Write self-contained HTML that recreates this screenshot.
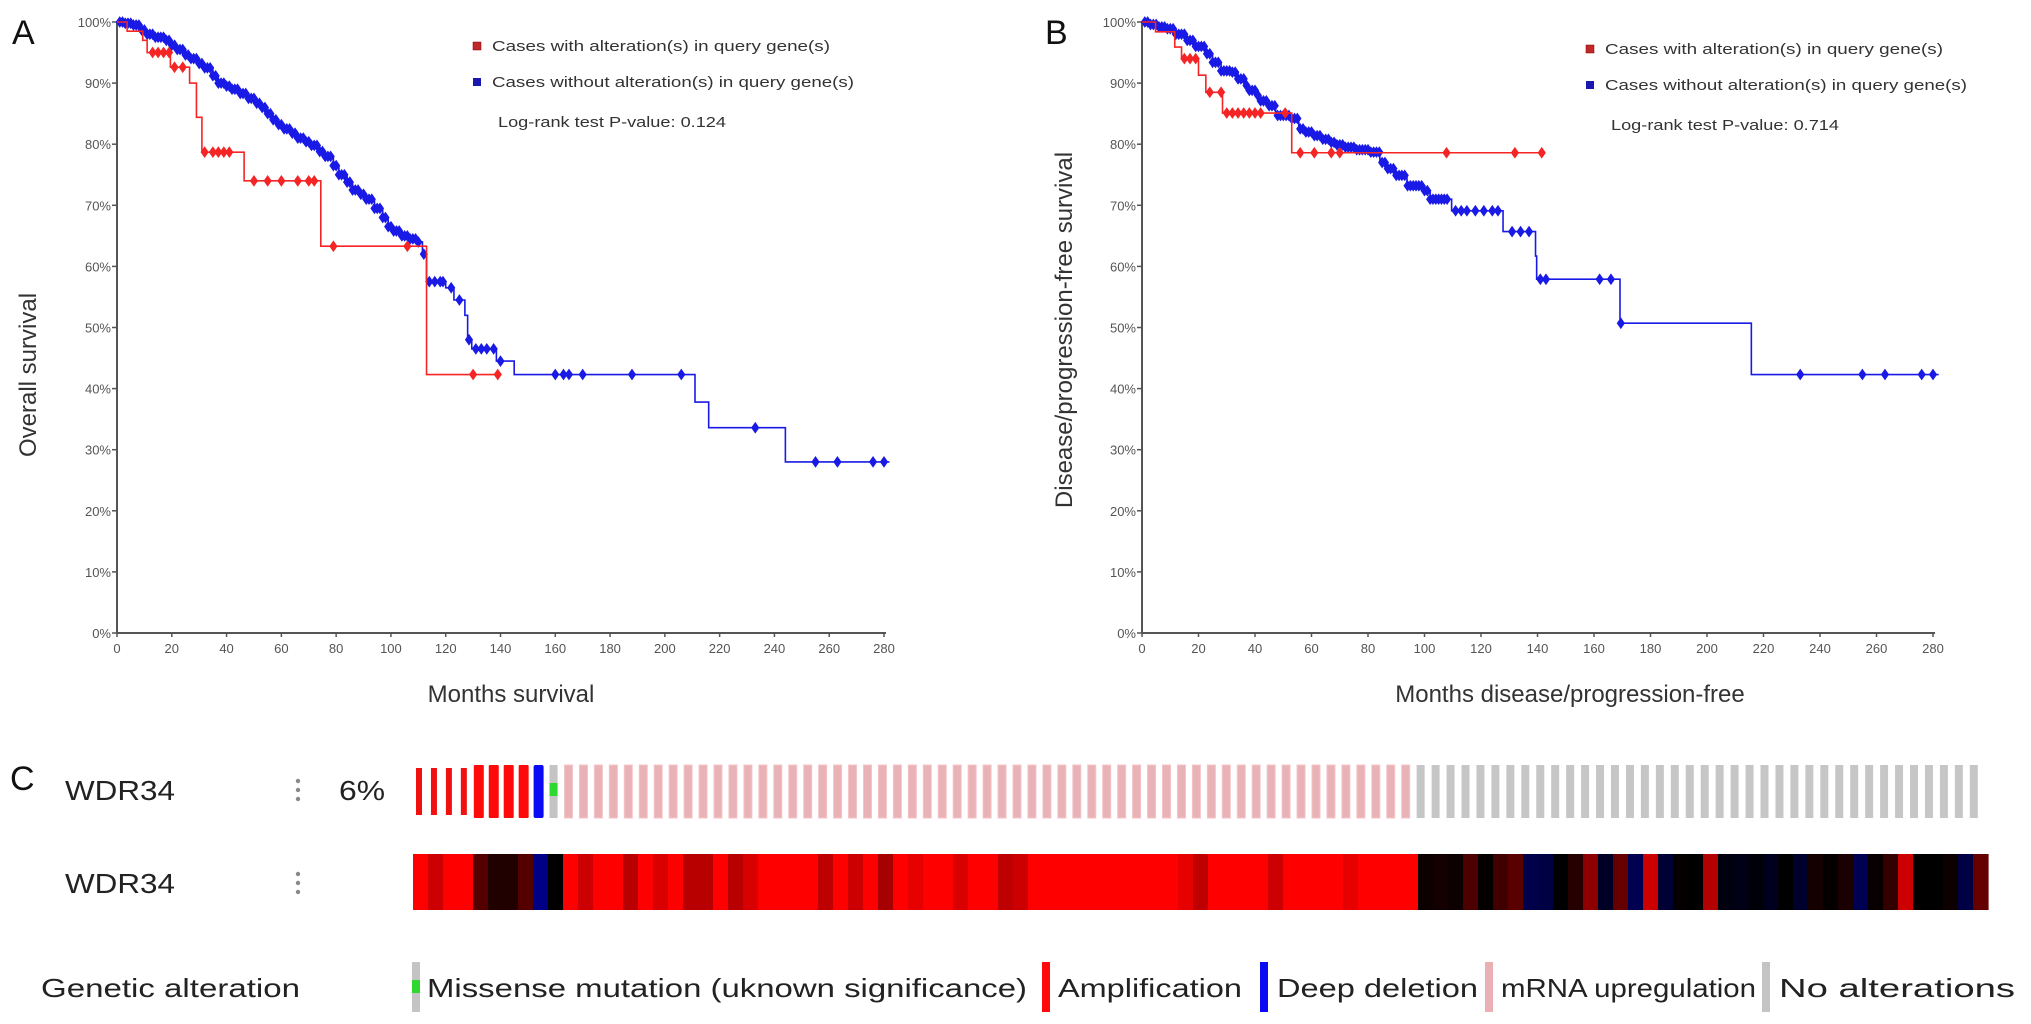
<!DOCTYPE html>
<html><head><meta charset="utf-8"><style>
html,body{margin:0;padding:0;background:#fff;}
svg{display:block;font-family:"Liberation Sans",Arial,sans-serif;}
</style></head><body>
<svg id="fig" width="2031" height="1024" viewBox="0 0 2031 1024" xmlns="http://www.w3.org/2000/svg">
<rect width="2031" height="1024" fill="#fff"/>
<g id="panelA"></g>
<g id="panelB"></g>
<g id="panelC"></g>
</svg>
<script>
// ---- Panel A data ----
const aRedTimes = [3.7, 9.4, 11, 19.5, 26.5, 29, 31, 46.4, 74.4, 113];
const aRedVals = [98.5, 97, 95, 92.6, 90, 84.4, 78.7, 74, 63.3, 42.3];
const aRedEnd = 140;
const aRedCensor = [13,15,17,19,21,24,32,35,37,39,41,50,55,60,66,70,72,79,106,130,139];
const aBlueTimes = [3,6,9,11,14,17.5,20,22,25,27,30,32,35,37,40,42,45,48,51,53,55,56.5,59,61,64,66,69,71,74,76,79,81,84,86,89,91,94,97,99,101,103.5,107,110,111.5,113,120,123,127,128,129.5,138.5,145,211,216,244];
const aBlueVals = [99.8,99.5,98.7,98,97.5,97,96.2,95.5,94.6,94,93.2,92.5,91.2,90,89.5,89,88.3,87.5,86.7,86,85,84,83.2,82.5,81.8,81,80.4,79.8,78.8,78,76.5,75,73.8,72.5,71.8,71,69.5,68,66.5,65.8,65,64.5,64,62,57.5,56.5,54.5,52,48,46.5,44.5,42.3,37.8,33.6,28];
const aBlueEnd = 282;
const aBlueCensor = [1,2,3,4,5,6,7,8,9,10,11,12,13,14,15,16,17,18,19,20,21,22,23,24,25,26,27,28,29,30,31,32,33,34,35,36,37,38,39,40,41,42,43,44,45,46,47,48,49,50,51,52,53,54,55,56,57,58,59,60,61,62,63,64,65,66,67,68,69,70,71,72,73,74,75,76,77,78,79,80,81,82,83,84,85,86,87,88,89,90,91,92,93,94,95,96,97,98,99,100,101,102,103,104,105,106,107,108,109,110,112,114,116,118,119,122,125,128.5,131,133,135,137.5,140,160,163,165,170,188,206,233,255,263,276,280];
// ---- Panel B data ----
const bRedTimes = [4.8, 11.6, 14, 20, 22.6, 28.5, 53];
const bRedVals = [98.4, 95.9, 94, 91.3, 88.5, 85.1, 78.6];
const bRedEnd = 142;
const bRedCensor = [15,17,19,24,28,30,32,34,36,38,40,42,50.7,56,61,67,70,107.8,132,141.5];
const bBlueTimes = [3,6,8.9,12,15.8,19,22.6,25,28,32,34,36.3,38,40.4,42,44.5,47.3,52.7,55.5,58,61,64,66.4,69,71.9,76,80.1,84.2,87,89.7,93.8,99.3,102,109.6,127.8,139.3,139.7,169.2,215.7];
const bBlueVals = [99.6,99.2,98.9,98,97,96,94.8,93.4,92,91.8,90.7,89.6,88.8,88,87.1,86.3,84.7,84.2,82.5,82,81.4,80.8,80.3,79.9,79.5,79.1,78.7,77,76,74.9,73.2,72.4,71,69.1,65.7,61.7,57.9,50.7,42.3];
const bBlueEnd = 282;
const bBlueCensor = [1,2,3,4,5,6,7,8,9,10,11,12,13,14,15,16,17,18,19,20,21,22,23,24,25,26,27,28,29,30,31,32,33,34,35,36,37,38,39,40,41,42,43,44,45,46,47,48,49,50,51,52,53,54,55,56,57,58,59,60,61,62,63,64,65,66,67,68,69,70,71,72,73,74,75,76,77,78,79,80,81,82,83,84,85,86,87,88,89,90,91,92,93,94,95,96,97,98,99,100,101,102,103,104,105,106,107,108,111,113,115,118,121,124,126,131,134,137,141,143,162,166,169.5,233,255,263,276,280];
const xTicks = [0,20,40,60,80,100,120,140,160,180,200,220,240,260,280];
const yTicks = [0,10,20,30,40,50,60,70,80,90,100];
// ---- Panel C data ----
const oncoTypes = ["amp-thin","amp-thin","amp-thin","amp-thin","amp","amp","amp","amp","del","mis"];
const nPink = 57;
const nGray = 38;
const heatVals = [1,0.8,1,1,0.33,0.13,0.13,0.33,-0.9,0,1,0.8,1,1,0.72,1,0.85,1,0.72,0.72,1,0.72,0.85,1,1,1,1,0.75,1,0.8,1,0.65,1,0.9,1,1,0.85,1,1,0.75,0.8,1,1,1,1,1,1,1,1,1,1,0.9,0.75,1,1,1,1,0.8,1,1,1,1,0.9,1,1,1,1,0.05,0.08,0.05,0.3,0.02,0.25,0.35,-0.5,-0.45,0,0.15,0.55,-0.25,0.4,-0.55,0.8,-0.35,0.02,0,0.7,-0.1,-0.15,-0.05,-0.2,0,-0.3,0.08,0.02,0.1,-0.55,0.03,0.2,0.8,0,0,0.05,-0.45,0.4];

const NS = "http://www.w3.org/2000/svg";
function mk(parent, tag, attrs, text){
  const e = document.createElementNS(NS, tag);
  for (const k in attrs) e.setAttribute(k, attrs[k]);
  if (text !== undefined) e.textContent = text;
  parent.appendChild(e);
  return e;
}

function stepVal(times, vals, t){
  let v = 100;
  for (let i=0;i<times.length;i++){ if (times[i] <= t) v = vals[i]; }
  return v;
}

function drawKM(g, cfg){
  const X = m => cfg.x0 + m*(cfg.x1-cfg.x0)/280;
  const Y = p => 633 - p*(633-22)/100;
  // axes
  let el;
  el = mk(g,'line',{x1:X(0),y1:Y(0),x2:X(0),y2:Y(100),stroke:'#555','stroke-width':2});
  
  
  el = mk(g,'line',{x1:X(0),y1:Y(0),x2:X(280)+2,y2:Y(0),stroke:'#555','stroke-width':2});
  
  
  yTicks.forEach(v=>{
    mk(g,'line',{x1:X(0)-5,y1:Y(v),x2:X(0),y2:Y(v),stroke:'#555','stroke-width':1.5});
    const t = mk(g,'text',{x:X(0)-6,y:Y(v)+5,'font-size':13,fill:'#555','text-anchor':'end'}, v+'%');
    
    
  });
  xTicks.forEach(v=>{
    mk(g,'line',{x1:X(v),y1:Y(0),x2:X(v),y2:Y(0)+4,stroke:'#555','stroke-width':1.5});
    const t = mk(g,'text',{x:X(v),y:Y(0)+20,'font-size':13,fill:'#555','text-anchor':'middle'}, String(v));
    
    
  });
  // titles
  el = mk(g,'text',{x:0,y:0,'font-size':24,fill:'#333','text-anchor':'middle',transform:`translate(${cfg.yTitleX},${cfg.yTitleY}) rotate(-90)`}, cfg.yTitle);
  
  
  el = mk(g,'text',{x:cfg.xTitleX,y:702,'font-size':24,fill:'#333','text-anchor':'middle'}, cfg.xTitle);
  
  
  el = mk(g,'text',{x:cfg.letterX,y:44,'font-size':34,fill:'#111'}, cfg.letter);
  
  
  // curves
  function curve(times, vals, end, censor, color, name){
    let d = `M${X(0)},${Y(100)}`;
    for (let i=0;i<times.length;i++){ d += ` H${X(times[i])} V${Y(vals[i])}`; }
    d += ` H${X(end)}`;
    const p = mk(g,'path',{d:d,fill:'none',stroke:color,'stroke-width':1.6});
    
    
    censor.forEach(t=>{
      const cx = X(t), cy = Y(stepVal(times, vals, t));
      const m = mk(g,'path',{d:`M${cx},${cy-5} L${cx+3.5},${cy} L${cx},${cy+5} L${cx-3.5},${cy} Z`,fill:color,stroke:color,'stroke-width':1});
      
      
    });
  }
  curve(cfg.blueT, cfg.blueV, cfg.blueEnd, cfg.blueC, '#1a1ae6', 'without-alteration');
  curve(cfg.redT, cfg.redV, cfg.redEnd, cfg.redC, '#f52525', 'with-alteration');
  // legend
  const lx = cfg.legX, ly = cfg.legY;
  el = mk(g,'rect',{x:lx,y:ly-5,width:8,height:8,fill:'#c0282a',stroke:'#800',"stroke-width":0.5});
  
  
  el = mk(g,'text',{x:lx+19,y:ly+4,'font-size':15,fill:'#333',textLength:338,lengthAdjust:'spacingAndGlyphs'},'Cases with alteration(s) in query gene(s)');
  
  
  el = mk(g,'rect',{x:lx,y:ly+31,width:8,height:8,fill:'#1818b0'});
  
  
  el = mk(g,'text',{x:lx+19,y:ly+40,'font-size':15,fill:'#333',textLength:362,lengthAdjust:'spacingAndGlyphs'},'Cases without alteration(s) in query gene(s)');
  
  
  el = mk(g,'text',{x:lx+25,y:ly+80,'font-size':15,fill:'#333',textLength:228,lengthAdjust:'spacingAndGlyphs'},cfg.pval);
  
  
}

drawKM(document.getElementById('panelA'), {
  x0:117, x1:884, letter:'A', letterX:12,
  yTitle:'Overall survival', yTitleX:36, yTitleY:375,
  xTitle:'Months survival', xTitleX:511,
  redT:aRedTimes, redV:aRedVals, redEnd:aRedEnd, redC:aRedCensor,
  blueT:aBlueTimes, blueV:aBlueVals, blueEnd:aBlueEnd, blueC:aBlueCensor,
  legX:473, legY:47, pval:'Log-rank test P-value: 0.124'
});
drawKM(document.getElementById('panelB'), {
  x0:1142, x1:1933, letter:'B', letterX:1045,
  yTitle:'Disease/progression-free survival', yTitleX:1072, yTitleY:330,
  xTitle:'Months disease/progression-free', xTitleX:1570,
  redT:bRedTimes, redV:bRedVals, redEnd:bRedEnd, redC:bRedCensor,
  blueT:bBlueTimes, blueV:bBlueVals, blueEnd:bBlueEnd, blueC:bBlueCensor,
  legX:1586, legY:50, pval:'Log-rank test P-value: 0.714'
});

// ---- Panel C ----
(function(){
  const g = document.getElementById('panelC');
  let el;
  el = mk(g,'text',{x:10,y:790,'font-size':34,fill:'#111'},'C');
  
  
  [800, 893].forEach((y,i)=>{
    el = mk(g,'text',{x:65,y:y,'font-size':28,fill:'#222',textLength:110,lengthAdjust:'spacingAndGlyphs'},'WDR34');
    
    
    const dots = mk(g,'g',{});
    
    
    [-9,0,9].forEach(o=>mk(dots,'circle',{cx:298,cy:y-10+o,r:2.2,fill:'#888'}));
  });
  el = mk(g,'text',{x:339,y:800,'font-size':28,fill:'#222',textLength:46,lengthAdjust:'spacingAndGlyphs'},'6%');
  
  
  const pitch = 14.95, x0 = 415;
  const types = oncoTypes.concat(Array(nPink).fill('mrna'), Array(nGray).fill('none'));
  types.forEach((t,i)=>{
    const x = x0 + i*pitch;
    let r;
    if (t==='amp-thin'){ r = mk(g,'rect',{x:x+1,y:768,width:6,height:47,fill:'#f01010'}); }
    else if (t==='amp'){ r = mk(g,'rect',{x:x-1,y:765,width:10,height:53,fill:'#ff0a0a',rx:1}); }
    else if (t==='del'){ r = mk(g,'rect',{x:x-1,y:765,width:10,height:53,fill:'#0a0af5',rx:2}); }
    else if (t==='mis'){ r = mk(g,'rect',{x:x,y:765,width:8,height:53,fill:'#c4c4c4'}); mk(g,'rect',{x:x,y:783,width:8,height:13,fill:'#2fd82f'}); }
    else if (t==='mrna'){ r = mk(g,'rect',{x:x,y:765,width:8,height:53,fill:'#e8b2b6',stroke:'#f3c4c8','stroke-width':1}); }
    else { r = mk(g,'rect',{x:x,y:765,width:8,height:53,fill:'#c6c6c6'}); }
    
    
  });
  const hw = (1988-413)/heatVals.length;
  heatVals.forEach((v,i)=>{
    const rr = v>0 ? Math.round(v*255) : 0;
    const bb = v<0 ? Math.round(-v*150) : 0;
    const c = mk(g,'rect',{x:413+i*hw,y:854,width:hw+0.6,height:56,fill:`rgb(${rr},0,${bb})`});
    
    
  });
  // legend
  el = mk(g,'text',{x:41,y:997,'font-size':26,fill:'#222',textLength:259,lengthAdjust:'spacingAndGlyphs'},'Genetic alteration');
  
  
  function sw(x, fill, name){
    const r = mk(g,'rect',{x:x,y:962,width:8,height:50,fill:fill});
    
    
    return r;
  }
  function lt(x, len, s, name){
    const t = mk(g,'text',{x:x,y:997,'font-size':26,fill:'#222',textLength:len,lengthAdjust:'spacingAndGlyphs'},s);
    
    
  }
  sw(412,'#c4c4c4','legend-swatch-missense');
  mk(g,'rect',{x:412,y:980,width:8,height:13,fill:'#2fd82f'});
  lt(427,600,'Missense mutation (uknown significance)','legend-entry-missense');
  sw(1042,'#ff0a0a','legend-swatch-amplification');
  lt(1058,184,'Amplification','legend-entry-amplification');
  sw(1260,'#0a0af5','legend-swatch-deep-deletion');
  lt(1277,201,'Deep deletion','legend-entry-deep-deletion');
  sw(1485,'#eab0b4','legend-swatch-mrna-upregulation');
  lt(1501,255,'mRNA upregulation','legend-entry-mrna-upregulation');
  sw(1762,'#c4c4c4','legend-swatch-no-alterations');
  lt(1779,236,'No alterations','legend-entry-no-alterations');
})();
</script>
</body></html>
